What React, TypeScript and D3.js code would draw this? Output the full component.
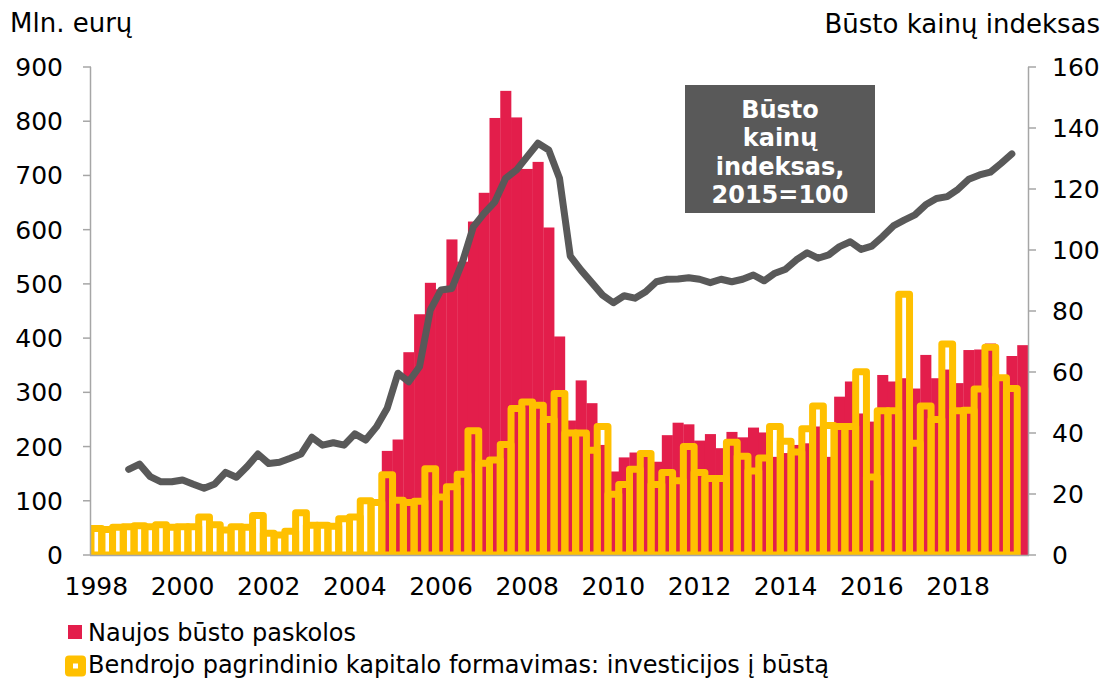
import React from "react";
import * as d3 from "d3";

// ketvirčiai 1998 Q1 – 2019 Q3
const quarters: string[] = d3
  .range(1998, 2020)
  .flatMap((y) => [1, 2, 3, 4].map((q) => `${y}Q${q}`))
  .slice(0, 87);

const yearLabels = ["1998", "2000", "2002", "2004", "2006", "2008", "2010", "2012", "2014", "2016", "2018"];

// Naujos būsto paskolos, mln. eurų
const loans: (number | null)[] = [
  null, null, null, null, null, null, null, null, null, null,
  null, null, null, null, null, null, null, null, null, null,
  null, null, null, null, null, null, null, 192, 213, 374,
  444, 502, 490, 582, 541, 615, 668, 806, 856, 807,
  712, 725, 604, 403, 248, 322, 280, 203, 154, 180,
  189, 185, 172, 221, 244, 241, 211, 223, 197, 227,
  217, 235, 226, 181, 188, 203, 206, 237, 181, 292,
  320, 261, 246, 332, 320, 326, 307, 369, 326, 342,
  317, 378, 379, 390, 322, 367, 387,
];

// Bendrojo pagrindinio kapitalo formavimas: investicijos į būstą, mln. eurų
const investment: (number | null)[] = [
  49, 47, 51, 52, 54, 52, 56, 51, 52, 52,
  70, 56, 46, 52, 51, 73, 40, 37, 44, 78,
  55, 55, 53, 67, 70, 100, 97, 148, 101, 97,
  99, 159, 107, 126, 149, 229, 169, 175, 204, 270,
  282, 276, 250, 298, 225, 225, 193, 237, 112, 130,
  158, 187, 130, 152, 137, 200, 152, 141, 141, 208,
  182, 155, 179, 237, 210, 190, 233, 275, 239, 237,
  237, 338, 144, 266, 266, 481, 206, 275, 250, 389,
  266, 267, 306, 383, 327, 307, null,
];

// Būsto kainų indeksas, 2015=100
const priceIndex: (number | null)[] = [
  null, null, null, 28.1, 29.8, 25.7, 24, 24, 24.6, 23.2,
  21.9, 23.3, 27.1, 25.5, 29, 33.1, 30, 30.4, 31.7, 33.1,
  38.6, 36, 36.8, 36, 39.7, 37.7, 42, 48.1, 59.6, 56.8,
  61.7, 80.3, 86.9, 87.4, 96.2, 107.6, 112, 115.8, 123.5, 126.2,
  130.6, 135, 132.8, 123.5, 98, 93.4, 89.3, 85.2, 82.7, 85,
  84.2, 86.3, 89.6, 90.4, 90.5, 90.9, 90.4, 89.3, 90.4, 89.6,
  90.4, 91.8, 89.9, 92.4, 93.7, 96.8, 99.1, 97.3, 98.4, 101.1,
  102.7, 100.2, 101.3, 104.4, 107.9, 109.8, 111.5, 114.8, 116.9, 117.5,
  119.9, 123.2, 124.6, 125.5, 128.4, 131.5, null,
];

const RED = "#E31E4B";
const YELLOW = "#FFC000";
const DARK = "#595959";
const AXIS = "#A6A6A6";
const FONT = "DejaVu Sans, Verdana, sans-serif";

const App = () => {
  const width = 1111;
  const height = 680;
  const left = 91;
  const right = 1028;
  const top = 67;
  const bottom = 555;

  const x = d3.scaleBand<string>().domain(quarters).range([left, right]).padding(0);
  const y = d3.scaleLinear().domain([0, 900]).range([bottom, top]);
  const y2 = d3.scaleLinear().domain([0, 160]).range([bottom, top]);
  const bw = x.bandwidth();

  const line = d3
    .line<number | null>()
    .defined((d) => d != null)
    .x((_, i) => (x(quarters[i]) as number) + bw / 2)
    .y((d) => y2(d as number));

  return (
    <svg
      width={width}
      height={height}
      style={{ position: "absolute", left: 0, top: 0, background: "#fff" }}
      fontFamily={FONT}
    >
      <defs>
        <clipPath id="plot">
          <rect x={left} y={0} width={right - left} height={bottom} />
        </clipPath>
      </defs>

      {/* paskolos */}
      <g>
        {loans.map((v, i) =>
          v == null ? null : (
            <rect
              key={i}
              x={x(quarters[i])}
              y={y(v)}
              width={bw + 0.3}
              height={bottom - y(v)}
              fill={RED}
            />
          )
        )}
      </g>

      {/* investicijos */}
      <g clipPath="url(#plot)">
        {investment.map((v, i) =>
          v == null ? null : (
            <rect
              key={i}
              x={x(quarters[i])}
              y={y(v)}
              width={bw}
              height={bottom - y(v)}
              fill="none"
              stroke={YELLOW}
              strokeWidth={7}
              strokeLinejoin="round"
            />
          )
        )}
      </g>

      {/* kainų indeksas */}
      <path
        d={line(priceIndex) || ""}
        fill="none"
        stroke={DARK}
        strokeWidth={7}
        strokeLinejoin="round"
        strokeLinecap="round"
      />

      {/* ašys */}
      <line x1={left - 0.5} x2={left - 0.5} y1={top} y2={bottom} stroke={AXIS} strokeWidth={1.5} />
      <line x1={right + 0.5} x2={right + 0.5} y1={top} y2={bottom} stroke={AXIS} strokeWidth={1.5} />
      <line x1={left - 1} x2={right + 1} y1={bottom + 0.5} y2={bottom + 0.5} stroke={AXIS} strokeWidth={1.5} />

      {y.ticks(10).map((t) => (
        <g key={"l" + t}>
          <line x1={left - 8} x2={left} y1={y(t)} y2={y(t)} stroke={AXIS} strokeWidth={1.5} />
          <text x={63} y={y(t)} dy="0.36em" textAnchor="end" fontSize={25} fill="#000">
            {t}
          </text>
        </g>
      ))}

      {y2.ticks(8).map((t) => (
        <g key={"r" + t}>
          <line x1={right} x2={right + 8} y1={y2(t)} y2={y2(t)} stroke={AXIS} strokeWidth={1.5} />
          <text x={1052} y={y2(t)} dy="0.36em" textAnchor="start" fontSize={25} fill="#000">
            {t}
          </text>
        </g>
      ))}

      {yearLabels.map((yr) => (
        <text
          key={yr}
          x={(x(`${yr}Q1`) as number) + bw / 2}
          y={595}
          textAnchor="middle"
          fontSize={25}
          fill="#000"
        >
          {yr}
        </text>
      ))}

      {/* pavadinimai */}
      <text x={10} y={32} fontSize={26} fill="#000">
        Mln. eurų
      </text>
      <text x={1100} y={33} textAnchor="end" fontSize={26} fill="#000">
        Būsto kainų indeksas
      </text>

      {/* anotacija */}
      <rect x={685} y={85} width={190} height={128} fill={DARK} />
      {["Būsto", "kainų", "indeksas,", "2015=100"].map((s, i) => (
        <text
          key={s}
          x={780}
          y={118 + i * 28.4}
          textAnchor="middle"
          fontSize={24}
          fontWeight="bold"
          fill="#fff"
        >
          {s}
        </text>
      ))}

      {/* legenda */}
      <rect x={68} y={625} width={14} height={14} fill={RED} />
      <text x={88} y={641} fontSize={24} fill="#000">
        Naujos būsto paskolos
      </text>
      <rect
        x={69}
        y={659.5}
        width={13}
        height={13}
        fill="#fff"
        stroke={YELLOW}
        strokeWidth={8}
        strokeLinejoin="round"
      />
      <text x={88} y={673} fontSize={24} fill="#000">
        Bendrojo pagrindinio kapitalo formavimas: investicijos į būstą
      </text>
    </svg>
  );
};

export default App;
